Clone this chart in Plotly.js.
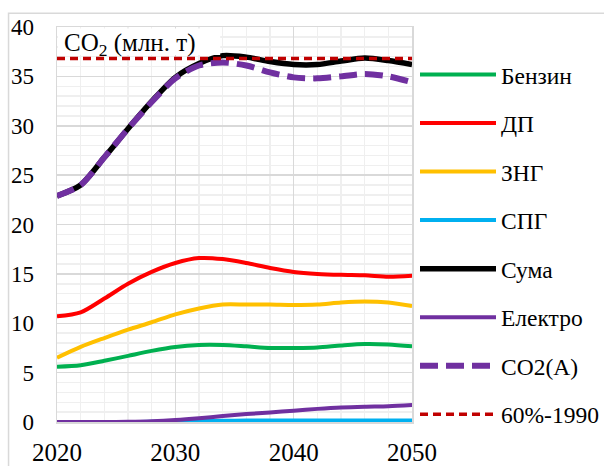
<!DOCTYPE html>
<html>
<head>
<meta charset="utf-8">
<script src="https://cdn.plot.ly/plotly-3.0.1.min.js"></script>
<style>
  html, body { margin: 0; padding: 0; background: #fff; }
  #chart { width: 604px; height: 466px; }
</style>
</head>
<body>
<div id="chart"></div>
<script>
// Years on the horizontal axis
const years = [2020, 2022, 2024, 2026, 2028, 2030, 2032, 2034, 2036, 2038, 2040, 2042, 2044, 2046, 2048, 2050];

// CO2 emissions by fuel, million tonnes
const benzyn  = [5.6, 5.75, 6.2, 6.7, 7.2, 7.6, 7.8, 7.8, 7.66, 7.5, 7.5, 7.55, 7.75, 7.9, 7.85, 7.66];
const dp      = [10.7, 11.1, 12.5, 14.0, 15.2, 16.1, 16.6, 16.5, 16.1, 15.6, 15.2, 15.0, 14.9, 14.85, 14.7, 14.8];
const zng     = [6.5, 7.6, 8.5, 9.35, 10.1, 10.9, 11.5, 11.9, 11.9, 11.9, 11.85, 11.9, 12.1, 12.2, 12.1, 11.75];
const spg     = [0, 0, 0, 0, 0.02, 0.05, 0.1, 0.12, 0.15, 0.15, 0.15, 0.15, 0.15, 0.15, 0.15, 0.15];
const suma    = [22.9, 24.0, 26.8, 29.7, 32.46, 34.9, 36.3, 37.1, 36.95, 36.5, 36.2, 36.2, 36.55, 36.85, 36.6, 36.2];
const elektro = [0, 0, 0, 0.02, 0.08, 0.2, 0.38, 0.6, 0.8, 0.97, 1.15, 1.33, 1.47, 1.55, 1.6, 1.72];
const co2A    = [22.9, 24.0, 26.8, 29.7, 32.4, 34.8, 36.1, 36.4, 36.1, 35.4, 34.9, 34.8, 35.0, 35.25, 35.0, 34.4];
const limitYears = [2020, 2050];
const limit1990  = [36.8, 36.8];

const fontName = 'Liberation Serif';

function seriesLine(name, x, y, color, width, dash) {
  return {
    type: 'scatter', mode: 'lines', name: name, x: x, y: y,
    legendgroup: name,
    line: { color: color, width: width, shape: 'spline', smoothing: 0.8, dash: dash || 'solid' },
    hoverinfo: 'x+y+name'
  };
}

const traces = [
  seriesLine('Бензин', years, benzyn, '#00b050', 4),
  seriesLine('ДП', years, dp, '#ff0000', 4),
  seriesLine('ЗНГ', years, zng, '#ffc000', 4),
  seriesLine('СПГ', years, spg, '#00b0f0', 4),
  seriesLine('Сума', years, suma, '#000000', 5.5),
  seriesLine('Електро', years, elektro, '#7030a0', 4),
  seriesLine('CO2(A)', years, co2A, '#7030a0', 6, '18px,8px'),
  seriesLine('60%-1990', limitYears, limit1990, '#c00000', 3.5, '8px,5px')
];

// Plot area spans 57..416 px horizontally and 27..422 px vertically;
// the legend sits to its right inside the paper
const paperW = 604 - 57;
const plotH = 466 - 27 - 44;
const layout = {
  width: 604, height: 466,
  margin: { l: 57, r: 0, t: 27, b: 44 },
  paper_bgcolor: '#ffffff',
  plot_bgcolor: '#ffffff',
  font: { family: fontName, color: '#000000', size: 22 },
  showlegend: true,
  legend: {
    x: (419 - 57) / paperW, xanchor: 'left', y: 0.935, yanchor: 'top',
    traceorder: 'grouped', tracegroupgap: 15,
    itemwidth: 76,
    font: { family: fontName, size: 23.5, color: '#000' },
    bgcolor: 'rgba(0,0,0,0)'
  },
  xaxis: {
    domain: [0, 359 / paperW],
    range: [2020, 2050], dtick: 10, tick0: 2020,
    showgrid: true, gridcolor: '#d9d9d9', gridwidth: 1.5,
    minor: { dtick: 2, showgrid: true, gridcolor: '#efefef', gridwidth: 1.5 },
    zeroline: false, showline: true, linecolor: '#d9d9d9', linewidth: 1.5, mirror: true,
    ticks: '', ticklabelstandoff: 7,
    tickfont: { family: fontName, size: 25 }
  },
  yaxis: {
    range: [0, 40], dtick: 5, tick0: 0,
    showgrid: true, gridcolor: '#d9d9d9', gridwidth: 1.5,
    minor: { dtick: 1, showgrid: true, gridcolor: '#efefef', gridwidth: 1.5 },
    zeroline: false, showline: true, linecolor: '#d9d9d9', linewidth: 1.5, mirror: true,
    ticks: '', ticklabelstandoff: 17,
    tickfont: { family: fontName, size: 23 }
  },
  annotations: [{
    xref: 'paper', yref: 'paper', x: 6 / paperW, y: (422 - 44) / plotH,
    xanchor: 'left', yanchor: 'middle',
    text: 'CO<sub>2</sub> (млн. т)', showarrow: false, borderpad: 0,
    font: { family: fontName, size: 25, color: '#000' }
  }],
  shapes: [
    // outer chart frame
    {
      type: 'rect', xref: 'paper', yref: 'paper',
      x0: -49 / paperW, x1: 1.2, y0: -0.3, y1: 1.035,
      line: { color: '#d9d9d9', width: 1.5 }, fillcolor: 'rgba(0,0,0,0)', layer: 'below'
    },
    // white backing behind the units label
    {
      type: 'rect', xref: 'paper', yref: 'paper',
      x0: 1 / paperW, x1: (222 - 57) / paperW,
      y0: (422 - 55) / plotH, y1: (422 - 28.5) / plotH,
      line: { width: 0 }, fillcolor: '#ffffff', layer: 'above'
    }
  ]
};

Plotly.newPlot('chart', traces, layout, { displayModeBar: false, staticPlot: true });
</script>
</body>
</html>
